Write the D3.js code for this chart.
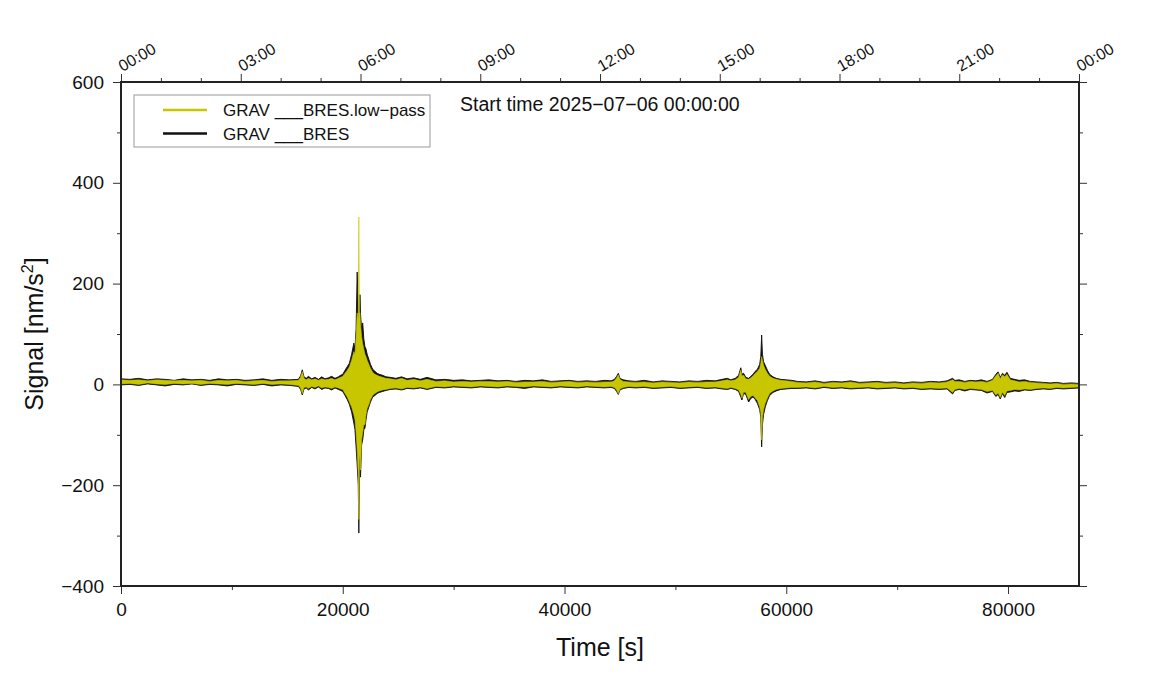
<!DOCTYPE html>
<html>
<head>
<meta charset="utf-8">
<script src="https://cdn.jsdelivr.net/npm/d3@7"></script>
<style>
  body { margin: 0; background: #fff; }
  text { font-family: "Liberation Sans", Arial, sans-serif; fill: #111; }
</style>
</head>
<body>
<div class="chart-container"></div>
<script>
//! DATA (seconds since start, envelope of each trace in nm/s^2)
const timeS = [
  0, 800, 1600, 2400, 3200, 4000, 4800, 5600, 6400, 7200, 8000, 8800, 9600, 10400, 11200, 12000, 12800, 13600, 14400, 15200,
  16000, 16200, 16350, 16500, 16700, 16900, 17200, 17500, 17800, 18100, 18400, 18700, 19000, 19300, 19600, 19800,
  20000, 20200, 20400, 20600, 20800, 21000, 21100, 21200, 21300, 21400, 21450, 21500, 21550, 21600, 21700, 21800, 21900, 22000, 22100, 22200, 22350, 22500, 22700, 22900, 23100, 23300, 23600, 23900,
  24300, 24800, 25300, 25800, 26400, 27000, 27600, 28400, 29200, 30000, 30800, 31600, 32400, 33200, 34000, 34800, 35600, 36400, 37200, 38000, 38800, 39600, 40400, 41200, 42000, 42800, 43600, 44200,
  44500, 44700, 44850, 45000, 45300, 45800,
  46400, 47200, 48000, 48800, 49600, 50400, 51200, 52000, 52800, 53600, 54200, 54700,
  55000, 55400, 55700, 55900, 56000, 56150, 56350, 56600, 56800, 57000, 57200, 57400, 57600, 57700, 57780, 57850, 57950, 58100, 58300, 58500, 58800, 59100, 59500, 60000, 60500,
  61000, 61800, 62600, 63400, 64200, 65000, 65800, 66600, 67400, 68200, 69000, 69800, 70600, 71400, 72200, 73000, 73800, 74500,
  75000, 75200, 75600, 76100, 76600, 77100, 77600, 78100, 78600, 78900, 79100, 79300, 79500, 79700, 79900, 80200, 80600, 81000, 81500, 82000, 82600, 83200, 83800, 84400, 85000, 85700, 86400
];
const rawHigh = [
  11, 10, 12, 9, 11, 10, 8, 11, 9, 10, 8, 11, 9, 10, 8, 9, 11, 8, 10, 9,
  10, 17, 29, 15, 12, 16, 11, 14, 10, 15, 11, 13, 16, 12, 15, 18,
  20, 28, 35, 42, 60, 82, 70, 110, 223, 150, 100, 120, 178, 140, 110, 122, 90, 75, 70, 60, 50, 40, 30, 26, 22, 20, 18, 15,
  14, 12, 15, 11, 13, 10, 14, 9, 10, 8, 9, 7, 8, 9, 7, 8, 6, 8, 7, 9, 6, 7, 8, 6, 7, 6, 8, 7,
  10, 16, 22, 12, 9, 7,
  6, 8, 5, 7, 6, 5, 7, 6, 8, 7, 10, 12,
  9, 12, 18, 33, 20, 22, 14, 12, 16, 20, 26, 30, 40, 55, 98, 60, 45, 38, 28, 20, 15, 12, 10, 9, 8,
  6, 5, 7, 4, 6, 5, 7, 4, 5, 6, 4, 5, 3, 5, 4, 6, 5, 7,
  12, 8, 9, 6, 8, 7, 9, 6, 10, 20, 25, 14, 22, 18, 24, 12, 10, 8, 9, 6, 5, 4, 3, 4, 2, 3, 2
];
const rawLow = [
  -1, 0, -2, 1, -1, -3, 0, -1, 1, -2, 0, -1, -3, 0, -1, -2, 0, -3, -1, -2,
  -4, -10, -21, -9, -7, -11, -6, -9, -5, -10, -7, -8, -11, -7, -10, -12,
  -14, -22, -30, -40, -55, -77, -90, -124, -160, -200, -295, -180, -150, -184, -120, -110, -90, -87, -70, -55, -45, -35, -25, -22, -18, -16, -14, -12,
  -10, -9, -11, -8, -9, -7, -10, -6, -7, -5, -6, -7, -5, -6, -7, -5, -6, -8, -5, -6, -7, -5, -6, -7, -5, -6, -7, -6,
  -8, -14, -20, -11, -8, -6,
  -7, -6, -8, -7, -6, -8, -7, -6, -8, -7, -9, -10,
  -8, -10, -14, -25, -31, -18, -20, -35, -28, -25, -30, -38, -50, -65, -124, -80, -60, -45, -32, -22, -16, -13, -10, -9, -8,
  -8, -7, -9, -6, -8, -7, -9, -8, -7, -9, -8, -7, -9, -8, -10, -9, -10, -9,
  -19, -12, -10, -13, -10, -11, -12, -17, -14, -24, -20, -29, -18, -26, -16, -15, -13, -14, -11, -12, -10, -9, -10, -8, -9, -8, -7
];
const lowpassHigh = [
  9, 8, 9, 7, 9, 8, 7, 8, 7, 8, 6, 8, 7, 8, 6, 7, 8, 6, 7, 7,
  8, 14, 25, 12, 9, 12, 9, 11, 8, 11, 9, 10, 12, 9, 12, 14,
  16, 22, 28, 35, 48, 65, 60, 95, 142, 130, 332, 140, 142, 120, 95, 80, 70, 60, 55, 48, 40, 32, 24, 20, 18, 16, 14, 12,
  11, 9, 12, 8, 10, 7, 10, 6, 7, 5, 6, 5, 6, 6, 5, 6, 4, 5, 5, 6, 4, 5, 6, 4, 5, 4, 5, 5,
  7, 13, 19, 10, 6, 5,
  4, 5, 3, 5, 4, 3, 5, 4, 5, 5, 7, 9,
  7, 9, 14, 28, 17, 18, 11, 10, 13, 17, 22, 26, 32, 42, 55, 48, 38, 30, 22, 16, 12, 10, 8, 7, 6,
  4, 3, 5, 2, 4, 3, 5, 2, 3, 4, 2, 3, 1, 3, 2, 4, 3, 5,
  9, 6, 6, 4, 6, 5, 6, 4, 8, 17, 22, 11, 19, 15, 20, 9, 7, 5, 6, 4, 3, 2, 1, 2, 0, 1, 0
];
const lowpassLow = [
  1, 2, 0, 3, 1, 0, 2, 1, 2, 0, 2, 1, 0, 2, 1, 0, 2, 0, 1, 0,
  -2, -7, -18, -6, -5, -8, -4, -6, -3, -7, -5, -6, -8, -5, -7, -9,
  -10, -18, -25, -35, -45, -60, -70, -95, -130, -180, -268, -150, -140, -170, -110, -95, -80, -80, -60, -48, -40, -30, -22, -18, -15, -13, -11, -10,
  -8, -7, -9, -6, -7, -5, -8, -4, -5, -3, -4, -5, -3, -4, -5, -3, -4, -5, -3, -4, -5, -3, -4, -5, -3, -4, -5, -4,
  -6, -11, -18, -9, -6, -4,
  -5, -4, -6, -5, -4, -6, -5, -4, -6, -5, -7, -8,
  -6, -8, -11, -20, -27, -15, -16, -30, -24, -22, -27, -32, -45, -55, -110, -65, -50, -38, -27, -18, -13, -10, -8, -7, -6,
  -6, -5, -7, -4, -6, -5, -7, -6, -5, -7, -6, -5, -7, -6, -8, -7, -8, -7,
  -16, -10, -8, -10, -8, -9, -10, -14, -12, -21, -17, -26, -15, -22, -13, -12, -10, -11, -9, -10, -8, -7, -8, -6, -7, -6, -5
];

//! TICKS
const xTicks = [0, 20000, 40000, 60000, 80000];
const xMinorTicks = [10000, 30000, 50000, 70000];
const yTicks = [-400, -200, 0, 200, 400, 600];
const yMinorTicks = [-300, -100, 100, 300, 500];
const clockTicks = [0, 10800, 21600, 32400, 43200, 54000, 64800, 75600, 86400];
const clockLabels = ['00:00', '03:00', '06:00', '09:00', '12:00', '15:00', '18:00', '21:00', '00:00'];
const hourTicks = [3600, 7200, 14400, 18000, 25200, 28800, 36000, 39600, 46800, 50400, 57600, 61200, 68400, 72000, 79200, 82800];

const seriesNames = ['GRAV ___BRES.low\u2212pass', 'GRAV ___BRES'];
const seriesColors = ['#c8c600', '#111111'];
const startLabel = 'Start time 2025\u221207\u221206 00:00:00';

//! CONSTS
const width = 1151;
const height = 700;
const plotLeft = 121, plotRight = 1079, plotTop = 82, plotBottom = 586;
const tickFont = 19;

//! SVG
const svg =
  d3.select('.chart-container')
    .append('svg')
    .attr('width', width)
    .attr('height', height);

//! SCALES
const xScale = d3.scaleLinear().domain([0, 86400]).range([plotLeft, plotRight]);
const yScale = d3.scaleLinear().domain([-400, 600]).range([plotBottom, plotTop]);

svg.append('clipPath').attr('id', 'plot-clip')
  .append('rect')
  .attr('x', plotLeft).attr('y', plotTop)
  .attr('width', plotRight - plotLeft).attr('height', plotBottom - plotTop);

//! TRACES
const idx = d3.range(timeS.length);

const band = (hi, lo) => d3.area()
  .x((i) => xScale(timeS[i]))
  .y0((i) => yScale(lo[i]))
  .y1((i) => yScale(hi[i]));

const traces = svg.append('g').attr('clip-path', 'url(#plot-clip)');

traces.append('path')
  .datum(idx)
  .attr('d', band(rawHigh, rawLow))
  .attr('fill', seriesColors[1])
  .attr('stroke', seriesColors[1])
  .attr('stroke-width', 0.9)
  .attr('stroke-linejoin', 'round');

traces.append('path')
  .datum(idx)
  .attr('d', band(lowpassHigh, lowpassLow))
  .attr('fill', seriesColors[0])
  .attr('stroke', seriesColors[0])
  .attr('stroke-width', 0.6)
  .attr('stroke-linejoin', 'round');

//! AXIS
const styleAxis = (g) => {
  g.select('.domain').remove();
  g.selectAll('.tick line').attr('stroke', '#333').attr('stroke-width', 1);
  g.selectAll('text').attr('font-size', tickFont).attr('fill', '#111')
    .attr('font-family', '"Liberation Sans", Arial, sans-serif');
};

svg.append('g')
  .attr('transform', `translate(0,${plotBottom})`)
  .call(d3.axisBottom(xScale).tickValues(xTicks).tickSize(8).tickPadding(9).tickFormat(d3.format('d')))
  .call(styleAxis);

svg.append('g')
  .attr('transform', `translate(0,${plotBottom})`)
  .call(d3.axisBottom(xScale).tickValues(xMinorTicks).tickSize(4).tickFormat(''))
  .call(styleAxis);

svg.append('g')
  .attr('transform', `translate(${plotLeft},0)`)
  .call(d3.axisLeft(yScale).tickValues(yTicks).tickSize(8).tickPadding(9).tickFormat(d3.format('d')))
  .call(styleAxis);

svg.append('g')
  .attr('transform', `translate(${plotLeft},0)`)
  .call(d3.axisLeft(yScale).tickValues(yMinorTicks).tickSize(4).tickFormat(''))
  .call(styleAxis);

svg.append('g')
  .attr('transform', `translate(${plotRight},0)`)
  .call(d3.axisRight(yScale).tickValues(yTicks).tickSize(8).tickFormat(''))
  .call(styleAxis);

svg.append('g')
  .attr('transform', `translate(${plotRight},0)`)
  .call(d3.axisRight(yScale).tickValues(yMinorTicks).tickSize(4).tickFormat(''))
  .call(styleAxis);

const topAxis = svg.append('g')
  .attr('transform', `translate(0,${plotTop})`)
  .call(d3.axisTop(xScale).tickValues(clockTicks).tickSize(8)
    .tickFormat((d, i) => clockLabels[i]))
  .call(styleAxis);

topAxis.selectAll('text')
  .attr('font-size', 16)
  .attr('text-anchor', 'start')
  .attr('x', 0).attr('y', 0).attr('dy', 0)
  .attr('transform', 'translate(1,-10) rotate(-30)');

svg.append('g')
  .attr('transform', `translate(0,${plotTop})`)
  .call(d3.axisTop(xScale).tickValues(hourTicks).tickSize(4).tickFormat(''))
  .call(styleAxis);

//! FRAME
svg.append('rect')
  .attr('x', plotLeft).attr('y', plotTop)
  .attr('width', plotRight - plotLeft).attr('height', plotBottom - plotTop)
  .attr('fill', 'none')
  .attr('stroke', '#222')
  .attr('stroke-width', 2);

//! LABELS
svg.append('text')
  .attr('x', (plotLeft + plotRight) / 2)
  .attr('y', 656)
  .attr('text-anchor', 'middle')
  .attr('font-size', 25)
  .text('Time [s]');

const yLabel = svg.append('text')
  .attr('transform', `translate(43,${(plotTop + plotBottom) / 2}) rotate(-90)`)
  .attr('text-anchor', 'middle')
  .attr('font-size', 25);
yLabel.append('tspan').text('Signal [nm/s');
yLabel.append('tspan').attr('font-size', 16).attr('dy', -10).text('2');
yLabel.append('tspan').attr('dy', 10).text(']');

svg.append('text')
  .attr('x', 460)
  .attr('y', 111)
  .attr('font-size', 19.5)
  .text(startLabel);

//! LEGEND
const legend = svg.append('g');
legend.append('rect')
  .attr('x', 134).attr('y', 95)
  .attr('width', 296).attr('height', 52)
  .attr('fill', '#fff')
  .attr('stroke', '#999')
  .attr('stroke-width', 1);

seriesNames.forEach((name, i) => {
  const yy = 110 + i * 23.5;
  legend.append('line')
    .attr('x1', 163).attr('x2', 207)
    .attr('y1', yy).attr('y2', yy)
    .attr('stroke', seriesColors[i])
    .attr('stroke-width', 2.5);
  legend.append('text')
    .attr('x', 223).attr('y', yy + 6)
    .attr('font-size', 17)
    .text(name);
});
</script>
</body>
</html>
